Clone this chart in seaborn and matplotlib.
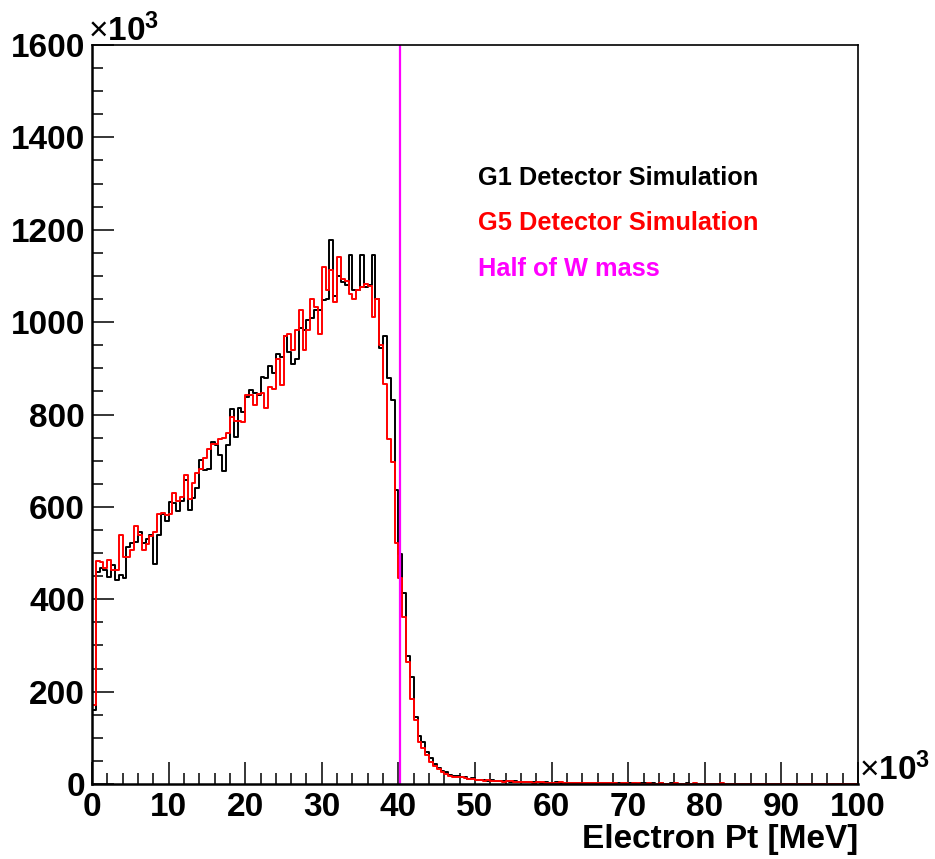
import numpy as np
import pandas as pd
import matplotlib
matplotlib.use("Agg")
import matplotlib.pyplot as plt
import seaborn as sns
from matplotlib.ticker import MultipleLocator

# ---- data (counts in units of 10^3, 200 bins of 0.5 x 10^3 MeV) ----
bin_width = 0.5
n_bins = 200

g1_counts = [
    160, 460, 467, 463, 449, 474, 441, 452, 446, 514,
    521, 523, 545, 521, 530, 539, 476, 539, 584, 569,
    611, 608, 592, 613, 658, 594, 620, 640, 702, 680,
    683, 741, 734, 712, 678, 734, 812, 752, 815, 806,
    838, 853, 846, 843, 882, 879, 905, 890, 932, 925,
    971, 936, 910, 921, 988, 982, 1004, 1010, 1026, 1026,
    1048, 1051, 1177, 1056, 1100, 1087, 1080, 1145, 1070, 1069,
    1145, 1076, 1080, 1145, 1051, 945, 970, 878, 831, 636,
    499, 413, 278, 232, 146, 104, 92, 70, 56, 44,
    34, 29, 25, 20, 18, 18, 16, 15, 11, 13,
    9, 8, 8, 7, 8, 7, 6, 7, 6, 5,
    6, 5, 4, 5, 4, 4, 5, 3, 4, 3,
    3, 4, 3, 3, 2, 3, 3, 2, 3, 2,
    2, 3, 2, 2, 2, 3, 2, 2, 2, 2,
    2, 2, 1, 2, 2, 1, 2, 1, 2, 1,
    1, 2, 1, 1, 1, 2, 1, 1, 1, 1,
    1, 1, 1, 1, 1, 1, 1, 1, 1, 1,
    1, 1, 1, 1, 1, 1, 1, 1, 1, 1,
    1, 1, 1, 1, 1, 1, 1, 1, 1, 1,
    1, 1, 1, 1, 1, 1, 1, 1, 1, 1,
]

g5_counts = [
    171, 483, 480, 467, 485, 463, 463, 539, 492, 492,
    506, 558, 539, 506, 520, 537, 545, 584, 586, 582,
    584, 629, 613, 621, 668, 618, 651, 673, 683, 705,
    725, 737, 737, 747, 750, 760, 795, 785, 785, 784,
    843, 843, 820, 845, 846, 813, 860, 855, 921, 864,
    971, 975, 939, 982, 1026, 939, 982, 1051, 1033, 975,
    1120, 1069, 1113, 1044, 1141, 1094, 1090, 1060, 1051, 1069,
    1075, 1083, 1078, 1011, 1051, 950, 867, 748, 697, 521,
    445, 361, 265, 185, 139, 90, 79, 62, 48, 40,
    32, 27, 22, 17, 16, 15, 16, 13, 11, 10,
    8, 9, 7, 8, 6, 7, 7, 5, 6, 6,
    5, 4, 5, 4, 5, 3, 4, 4, 3, 3,
    3, 3, 4, 2, 3, 3, 2, 3, 2, 2,
    3, 2, 2, 3, 2, 2, 2, 1, 2, 2,
    1, 2, 2, 1, 1, 2, 1, 1, 2, 1,
    1, 1, 2, 1, 1, 1, 1, 2, 1, 1,
    1, 1, 1, 1, 2, 1, 1, 1, 1, 1,
    1, 1, 1, 1, 1, 1, 1, 1, 1, 1,
    1, 1, 1, 1, 1, 1, 1, 1, 1, 1,
    1, 1, 1, 1, 1, 1, 1, 1, 1, 1,
]

half_w_mass = 40.19  # x 10^3 MeV

legend_labels = ["G1 Detector Simulation", "G5 Detector Simulation", "Half of W mass"]
legend_colors = ["black", "#ff0000", "#ff00ff"]
x_ticks = [0, 10, 20, 30, 40, 50, 60, 70, 80, 90, 100]
y_ticks = [0, 200, 400, 600, 800, 1000, 1200, 1400, 1600]
x_label = "Electron Pt [MeV]"

# ---- style ----
sns.set_theme(style="white")
plt.rcParams['font.family'] = ['Liberation Sans', 'DejaVu Sans']
plt.rcParams['mathtext.fontset'] = 'custom'
plt.rcParams['mathtext.rm'] = 'Liberation Sans'
plt.rcParams['mathtext.bf'] = 'Liberation Sans:bold'
plt.rcParams['mathtext.it'] = 'Liberation Sans:italic'

FS = 24

W, H = 935, 859
fig = plt.figure(figsize=(W / 100, H / 100), dpi=100)
fig.patch.set_facecolor('white')
L, R, T, B = 92, 858, 45, 784
ax = fig.add_axes([L / W, 1 - B / H, (R - L) / W, (B - T) / H])
ax.set_facecolor('white')

centers = np.arange(n_bins) * bin_width + bin_width / 2
df1 = pd.DataFrame({'pt': centers, 'n': g1_counts})
df5 = pd.DataFrame({'pt': centers, 'n': g5_counts})
x_range = (0.0, n_bins * bin_width)

sns.histplot(data=df1, x='pt', weights='n', binwidth=bin_width, binrange=x_range,
             element='step', fill=False, color='black', linewidth=1.4, ax=ax)
sns.histplot(data=df5, x='pt', weights='n', binwidth=bin_width, binrange=x_range,
             element='step', fill=False, color='#ff0000', linewidth=1.4, ax=ax)
ax.axvline(half_w_mass, color='#ff00ff', linewidth=1.6)

ax.set_xlim(0, 100)
ax.set_ylim(0, 1600)
ax.set_xlabel('')
ax.set_ylabel('')

ax.set_xticks(x_ticks, labels=[str(v) for v in x_ticks], fontweight='bold', fontsize=FS)
ax.set_yticks(y_ticks, labels=[str(v) for v in y_ticks], fontweight='bold', fontsize=FS)
ax.xaxis.set_minor_locator(MultipleLocator(2))
ax.yaxis.set_minor_locator(MultipleLocator(50))
ax.tick_params(which='major', direction='in', length=16, width=1.1, color='black',
               top=False, right=False, bottom=True, left=True)
ax.tick_params(which='minor', direction='in', length=8, width=1.1, color='black',
               top=False, right=False, bottom=True, left=True)
ax.tick_params(axis='x', which='major', pad=6, labelcolor='black')
ax.tick_params(axis='y', which='major', pad=5, labelcolor='black')

for side in ['left', 'bottom', 'top', 'right']:
    ax.spines[side].set_visible(True)
    ax.spines[side].set_color('black')
    ax.spines[side].set_linewidth(1.2)
ax.spines['left'].set_linewidth(1.8)
ax.spines['bottom'].set_linewidth(1.8)

# exponent labels
fig.text(88 / W, 1 - 41 / H, r'$\times\mathbf{10}^{\mathbf{3}}$', fontsize=FS,
         ha='left', va='baseline', color='black')
fig.text(859 / W, 1 - 780 / H, r'$\times\mathbf{10}^{\mathbf{3}}$', fontsize=FS,
         ha='left', va='baseline', color='black')

fig.text(R / W, 1 - 848 / H, x_label, fontsize=FS, fontweight='bold',
         ha='right', va='baseline', color='black')

for i, (lab, col) in enumerate(zip(legend_labels, legend_colors)):
    fig.text(478 / W, 1 - (185 + 45.5 * i) / H, lab, fontsize=18.3, fontweight='bold',
             color=col, ha='left', va='baseline')

fig.savefig('out.png', dpi=100, facecolor='white')
